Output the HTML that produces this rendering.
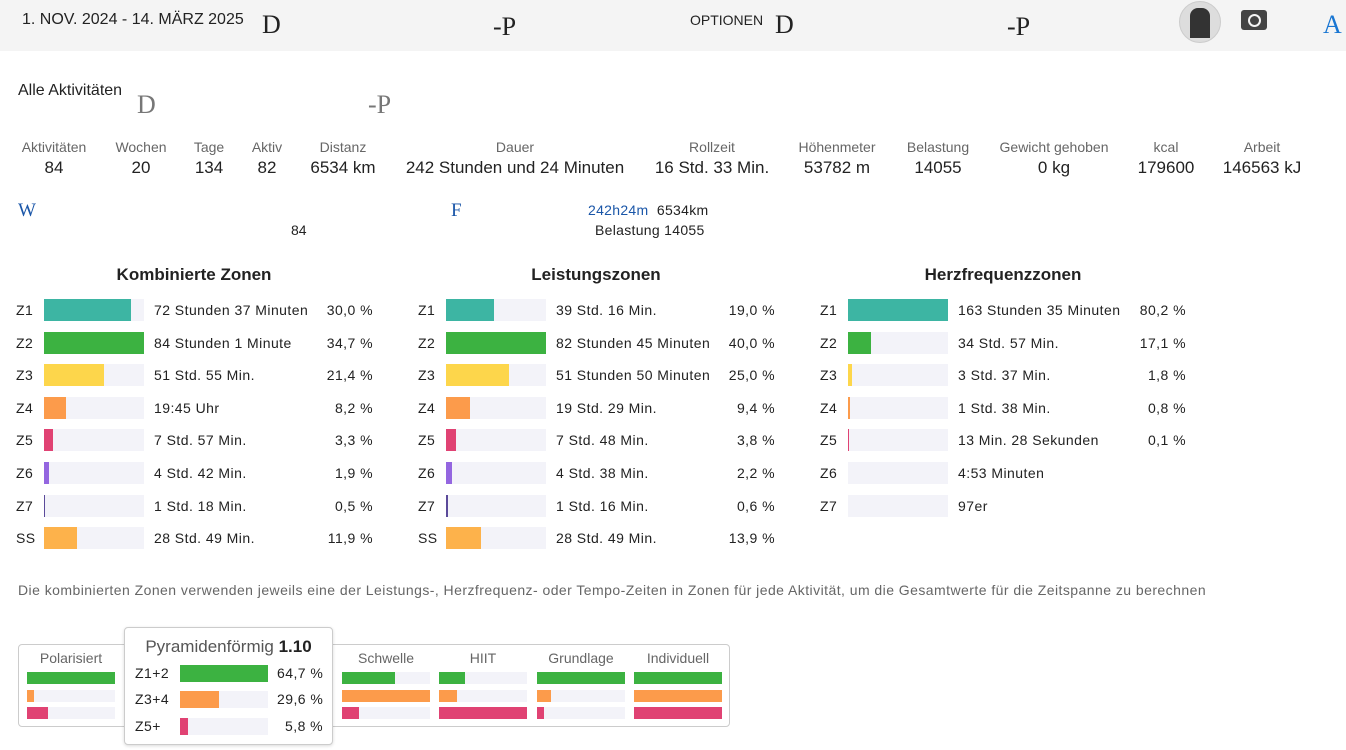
<!DOCTYPE html><html><head><meta charset="utf-8"><style>
body{margin:0;width:1346px;height:750px;background:#fff;font-family:"Liberation Sans",Arial,sans-serif;color:#222;position:relative;overflow:hidden}
.a{position:absolute;white-space:nowrap}
.top{position:absolute;left:0;top:0;width:1346px;height:51px;background:#f4f4f4}
.serif{font-family:"Liberation Serif",serif;font-size:26px}
.lab{font-size:14px;color:#666;text-align:center}
.val{font-size:17px;color:#222;text-align:center}
.tr{position:absolute;height:22px;width:100px;background:#f3f3f9}
.b{position:absolute;left:0;top:0;height:22px}
.t{font-size:14px;color:#222;letter-spacing:0.45px}
.h{font-size:17px;color:#222;font-weight:bold;text-align:center}
.sb{position:absolute;height:12px;background:#f3f3f9}
.sb div{height:12px}
</style></head><body>
<div class="top"></div>
<div class="a" style="left:22px;top:11px;font-size:16px">1. NOV. 2024 - 14. MÄRZ 2025</div>
<div class="a serif" style="left:262px;top:10px">D</div>
<div class="a serif" style="left:493px;top:12px">-P</div>
<div class="a" style="left:690px;top:12px;font-size:14px">OPTIONEN</div>
<div class="a serif" style="left:775px;top:10px">D</div>
<div class="a serif" style="left:1007px;top:12px">-P</div>
<div class="a" style="left:1179px;top:1px;width:40px;height:40px;border-radius:50%;background:#ddd;border:1px solid #ccc"><div style="position:absolute;left:10px;top:6px;width:20px;height:30px;background:#333;border-radius:8px 8px 0 0"></div></div>
<div class="a" style="left:1241px;top:10px;width:26px;height:20px;background:#444;border-radius:3px"><div style="position:absolute;left:7px;top:4px;width:9px;height:9px;border-radius:50%;border:2px solid #f4f4f4"></div></div>
<div class="a serif" style="left:1323px;top:10px;color:#1976d2">A</div>

<div class="a" style="left:18px;top:82px;font-size:16px">Alle Aktivitäten</div>
<div class="a serif" style="left:137px;top:90px;color:#777">D</div>
<div class="a serif" style="left:368px;top:90px;color:#777">-P</div>

<div class="a lab" style="left:18px;top:139px;width:72px">Aktivitäten</div><div class="a val" style="left:18px;top:158px;width:72px">84</div>
<div class="a lab" style="left:110px;top:139px;width:62px">Wochen</div><div class="a val" style="left:110px;top:158px;width:62px">20</div>
<div class="a lab" style="left:189px;top:139px;width:40px">Tage</div><div class="a val" style="left:189px;top:158px;width:40px">134</div>
<div class="a lab" style="left:247px;top:139px;width:40px">Aktiv</div><div class="a val" style="left:247px;top:158px;width:40px">82</div>
<div class="a lab" style="left:303px;top:139px;width:80px">Distanz</div><div class="a val" style="left:303px;top:158px;width:80px">6534 km</div>
<div class="a lab" style="left:400px;top:139px;width:230px">Dauer</div><div class="a val" style="left:400px;top:158px;width:230px">242 Stunden und 24 Minuten</div>
<div class="a lab" style="left:652px;top:139px;width:120px">Rollzeit</div><div class="a val" style="left:652px;top:158px;width:120px">16 Std. 33 Min.</div>
<div class="a lab" style="left:790px;top:139px;width:94px">Höhenmeter</div><div class="a val" style="left:790px;top:158px;width:94px">53782 m</div>
<div class="a lab" style="left:898px;top:139px;width:80px">Belastung</div><div class="a val" style="left:898px;top:158px;width:80px">14055</div>
<div class="a lab" style="left:992px;top:139px;width:124px">Gewicht gehoben</div><div class="a val" style="left:992px;top:158px;width:124px">0 kg</div>
<div class="a lab" style="left:1136px;top:139px;width:60px">kcal</div><div class="a val" style="left:1136px;top:158px;width:60px">179600</div>
<div class="a lab" style="left:1218px;top:139px;width:88px">Arbeit</div><div class="a val" style="left:1218px;top:158px;width:88px">146563 kJ</div>

<div class="a" style="left:18px;top:200px;font-family:'Liberation Serif',serif;font-size:19px;color:#1a56a8">W</div>
<div class="a" style="left:451px;top:200px;font-family:'Liberation Serif',serif;font-size:19px;color:#1a56a8">F</div>
<div class="a" style="left:291px;top:222px;font-size:14px">84</div>
<div class="a" style="left:588px;top:202px;font-size:14px;letter-spacing:0.3px"><span style="color:#1a56a8">242h24m</span>&nbsp; 6534km</div>
<div class="a" style="left:595px;top:222px;font-size:14px;letter-spacing:0.3px">Belastung 14055</div>

<div class="a h" style="left:44px;top:265px;width:300px">Kombinierte Zonen</div>
<div class="a h" style="left:446px;top:265px;width:300px">Leistungszonen</div>
<div class="a h" style="left:848px;top:265px;width:310px">Herzfrequenzzonen</div>

<div id="z"></div>
<script>
var rows=["Z1","Z2","Z3","Z4","Z5","Z6","Z7","SS"];
var col=["#3db5a3","#3cb241","#fdd64b","#fc9b4b","#e04273","#9466e0","#5b4a9a","#fdb24b"];
var cols=[
 {x:16,w:[87,100,60,22,9,5,1,33],t:["72 Stunden 37 Minuten","84 Stunden 1 Minute","51 Std. 55 Min.","19:45 Uhr","7 Std. 57 Min.","4 Std. 42 Min.","1 Std. 18 Min.","28 Std. 49 Min."],p:["30,0 %","34,7 %","21,4 %","8,2 %","3,3 %","1,9 %","0,5 %","11,9 %"],pr:373},
 {x:418,w:[48,100,63,24,10,6,2,35],t:["39 Std. 16 Min.","82 Stunden 45 Minuten","51 Stunden 50 Minuten","19 Std. 29 Min.","7 Std. 48 Min.","4 Std. 38 Min.","1 Std. 16 Min.","28 Std. 49 Min."],p:["19,0 %","40,0 %","25,0 %","9,4 %","3,8 %","2,2 %","0,6 %","13,9 %"],pr:775},
 {x:820,w:[100,23,4,2,1,0,0],t:["163 Stunden 35 Minuten","34 Std. 57 Min.","3 Std. 37 Min.","1 Std. 38 Min.","13 Min. 28 Sekunden","4:53 Minuten","97er"],p:["80,2 %","17,1 %","1,8 %","0,8 %","0,1 %","",""],pr:1186}];
var h="";
cols.forEach(function(c){c.w.forEach(function(w,i){var y=299+i*32.6;
h+='<div class="a t" style="left:'+c.x+'px;top:'+(y+3)+'px">'+rows[i]+'</div>';
h+='<div class="tr" style="left:'+(c.x+28)+'px;top:'+y+'px"><div class="b" style="width:'+w+'px;background:'+col[i]+'"></div></div>';
h+='<div class="a t" style="left:'+(c.x+138)+'px;top:'+(y+3)+'px">'+c.t[i]+'</div>';
h+='<div class="a t" style="left:'+(c.pr-80)+'px;width:80px;text-align:right;top:'+(y+3)+'px">'+c.p[i]+'</div>';});});
document.getElementById("z").innerHTML=h;
</script>

<div class="a" style="left:18px;top:582px;font-size:14px;color:#666;letter-spacing:0.45px">Die kombinierten Zonen verwenden jeweils eine der Leistungs-, Herzfrequenz- oder Tempo-Zeiten in Zonen für jede Aktivität, um die Gesamtwerte für die Zeitspanne zu berechnen</div>

<div class="a" style="left:18px;top:644px;width:710px;height:81px;border:1px solid #ccc;border-radius:4px"></div>
<div id="s"></div>
<script>
var sec=[[27,"Polarisiert",[100,8,24]],[342,"Schwelle",[60,100,19]],[439,"HIIT",[29,20,100]],[537,"Grundlage",[100,16,8]],[634,"Individuell",[100,100,100]]];
var sc=["#3cb241","#fc9b4b","#e04273"],hh="";
sec.forEach(function(s){hh+='<div class="a" style="left:'+(s[0]-6)+'px;width:100px;text-align:center;top:650px;font-size:14px;color:#666">'+s[1]+'</div>';
s[2].forEach(function(w,i){hh+='<div class="sb" style="left:'+s[0]+'px;width:88px;top:'+(672+i*17.5)+'px"><div style="width:'+w+'%;background:'+sc[i]+'"></div></div>';});});
document.getElementById("s").innerHTML=hh;
</script>
<div class="a" style="left:124px;top:627px;width:207px;height:116px;background:#fff;border:1px solid #ccc;border-radius:4px;box-shadow:0 1px 3px rgba(0,0,0,.15)">
<div class="a" style="left:0;width:207px;text-align:center;top:9px;font-size:17px;color:#555">Pyramidenförmig <b style="color:#222">1.10</b></div>
<div class="a t" style="left:10px;top:37px">Z1+2</div><div class="sb" style="left:55px;width:88px;top:37px;height:17px"><div style="width:100%;height:17px;background:#3cb241"></div></div><div class="a t" style="left:152px;top:37px">64,7 %</div>
<div class="a t" style="left:10px;top:63px">Z3+4</div><div class="sb" style="left:55px;width:88px;top:63px;height:17px"><div style="width:44%;height:17px;background:#fc9b4b"></div></div><div class="a t" style="left:152px;top:63px">29,6 %</div>
<div class="a t" style="left:10px;top:90px">Z5+</div><div class="sb" style="left:55px;width:88px;top:90px;height:17px"><div style="width:9%;height:17px;background:#e04273"></div></div><div class="a t" style="left:160px;top:90px">5,8 %</div>
</div>
</body></html>
